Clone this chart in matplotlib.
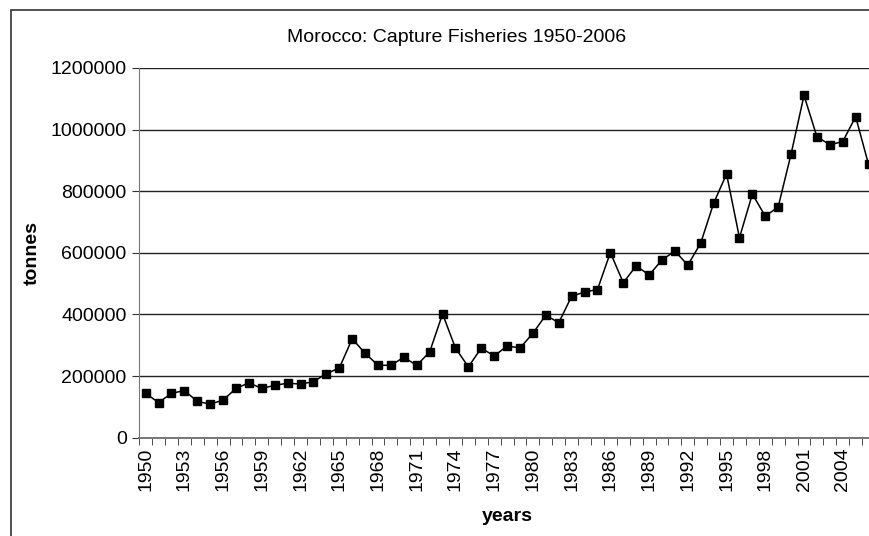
import matplotlib
matplotlib.use('Agg')
import matplotlib.pyplot as plt
from matplotlib.patches import Rectangle
from matplotlib.ticker import FuncFormatter

plt.rcParams['font.family'] = ['Liberation Sans', 'DejaVu Sans']

# Morocco capture fisheries, tonnes
years = list(range(1950, 2007))
tonnes = [
    144000, 114000, 144000, 153000, 118000, 109000, 122000, 160000, 178000, 160000,
    170000, 177000, 174000, 182000, 208000, 226000, 321000, 274000, 235000, 235000,
    261000, 235000, 278000, 402000, 291000, 230000, 291000, 265000, 298000, 291000,
    339000, 398000, 373000, 459000, 473000, 481000, 601000, 503000, 558000, 528000,
    577000, 606000, 560000, 632000, 761000, 856000, 649000, 791000, 719000, 749000,
    921000, 1111000, 977000, 951000, 961000, 1042000, 887000,
]
label_years = years[::3]

W, H = 869, 536
fs = 14
fig = plt.figure(figsize=(W / 100, H / 100), dpi=100)

# outer chart border (right and bottom edges fall outside the picture)
fig.patches.append(Rectangle((11 / W, -0.1), 1.2, 1.1 - 10 / H, transform=fig.transFigure,
                             fill=False, edgecolor='#333333', linewidth=1.2))

ax = fig.add_axes([139.2 / W, 98.3 / H, (875 - 139.2) / W, (437.7 - 68) / H])
ax.plot(years, tonnes, color='black', linewidth=1.1, marker='s', markersize=6,
        markerfacecolor='black', markeredgecolor='black', clip_on=False, zorder=3)

ax.set_xlim(1949.5, 2006.5)
ax.set_ylim(0, 1200000)
ax.set_yticks(range(0, 1200001, 200000))
ax.yaxis.set_major_formatter(FuncFormatter(lambda v, p: '%d' % v))
ax.set_xticks(label_years)
ax.set_xticklabels([str(y) for y in label_years], rotation=90)
ax.set_xticks([y + 0.5 for y in years[:-1]] + [1949.5], minor=True)
ax.tick_params(axis='x', which='major', length=0, pad=7, labelsize=fs)
ax.tick_params(axis='x', which='minor', length=5, color='#333333', direction='out')
ax.tick_params(axis='y', length=5, color='#333333', direction='out', labelsize=fs, pad=4)

ax.grid(axis='y', color='#222222', linewidth=1.0)
ax.set_axisbelow(True)
for s in ['top', 'right']:
    ax.spines[s].set_visible(False)
ax.spines['left'].set_color('#777777')
ax.spines['bottom'].set_color('#777777')
ax.spines['bottom'].set_linewidth(1.4)
ax.spines['bottom'].set_zorder(2.5)

fig.text(32 / W, 1 - 253 / H, 'tonnes', rotation=90, ha='center', va='center',
         fontsize=fs, fontweight='bold')
ax.set_xlabel('years', fontsize=fs, fontweight='bold', labelpad=12)
fig.text(457 / W, 1 - 38 / H, 'Morocco: Capture Fisheries 1950-2006', ha='center', va='center',
         fontsize=fs)

fig.savefig('out.png', dpi=100)
